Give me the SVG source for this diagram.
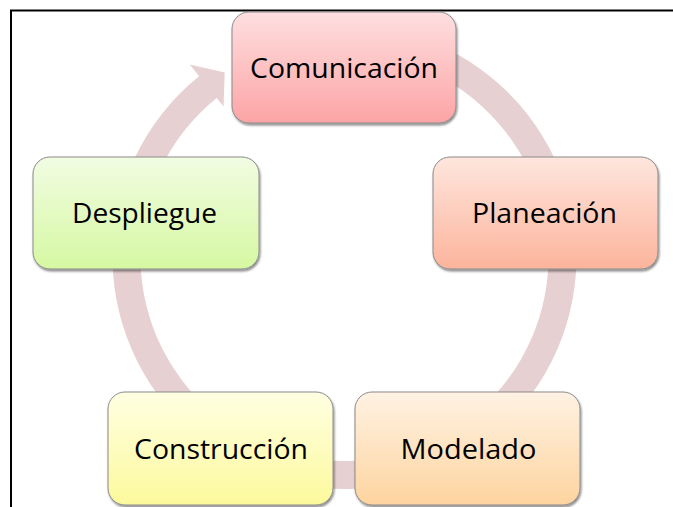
<svg xmlns="http://www.w3.org/2000/svg" width="673" height="507" viewBox="0 0 673 507">
<defs>
<linearGradient id="gCom" x1="0" y1="0" x2="0" y2="1"><stop offset="0" stop-color="#fedfe0"/><stop offset="1" stop-color="#fda4a5"/></linearGradient>
<linearGradient id="gPla" x1="0" y1="0" x2="0" y2="1"><stop offset="0" stop-color="#fee6dd"/><stop offset="1" stop-color="#fcb49c"/></linearGradient>
<linearGradient id="gMod" x1="0" y1="0" x2="0" y2="1"><stop offset="0" stop-color="#fff2e3"/><stop offset="1" stop-color="#fdd49f"/></linearGradient>
<linearGradient id="gCon" x1="0" y1="0" x2="0" y2="1"><stop offset="0" stop-color="#ffffe2"/><stop offset="1" stop-color="#fcf99c"/></linearGradient>
<linearGradient id="gDes" x1="0" y1="0" x2="0" y2="1"><stop offset="0" stop-color="#f1fce2"/><stop offset="1" stop-color="#d6f8a2"/></linearGradient>
<filter id="sh" x="-10%" y="-10%" width="125%" height="130%"><feDropShadow dx="1" dy="2" stdDeviation="1.3" flood-color="#000" flood-opacity="0.45"/></filter>
</defs>
<style>
.box{stroke:#8a8a8a;stroke-width:1;filter:url(#sh)}
.lbl{font-family:"Open Sans","Noto Sans","Liberation Sans",sans-serif;font-size:27px;fill:#000;text-anchor:middle}
.ring{fill:#e6d0d2;stroke:none}
.frame{fill:none;stroke:#000;stroke-width:2}
</style>
<rect width="673" height="507" fill="#fff"/>
<path class="frame" d="M11,507 V10.5 H673"/>
<g id="connectors">
<path class="ring" d="M384.79,28.52 A232,232 0 1 1 199.13,76.2 L189.73,64.51 L224.7,72.5 L223.57,106.6 L216.67,98.02 A204,204 0 1 0 379.92,56.1 Z"/>
</g>
<g id="comunicacion">
<rect class="box" x="232" y="12" width="224" height="111" rx="17" fill="url(#gCom)"/>
<text class="lbl" x="344" y="77.5" textLength="188" lengthAdjust="spacingAndGlyphs">Comunicación</text>
</g>
<g id="planeacion">
<rect class="box" x="433" y="157" width="225" height="112" rx="17" fill="url(#gPla)"/>
<text class="lbl" x="544.5" y="222.5" textLength="145" lengthAdjust="spacingAndGlyphs">Planeación</text>
</g>
<g id="modelado">
<rect class="box" x="355" y="392" width="225" height="113" rx="17" fill="url(#gMod)"/>
<text class="lbl" x="468.5" y="459" textLength="136" lengthAdjust="spacingAndGlyphs">Modelado</text>
</g>
<g id="construccion">
<rect class="box" x="108" y="392" width="225" height="113" rx="17" fill="url(#gCon)"/>
<text class="lbl" x="221" y="459" textLength="174" lengthAdjust="spacingAndGlyphs">Construcción</text>
</g>
<g id="despliegue">
<rect class="box" x="33" y="157" width="226" height="112" rx="17" fill="url(#gDes)"/>
<text class="lbl" x="144.5" y="222.5" textLength="145" lengthAdjust="spacingAndGlyphs">Despliegue</text>
</g>
</svg>
